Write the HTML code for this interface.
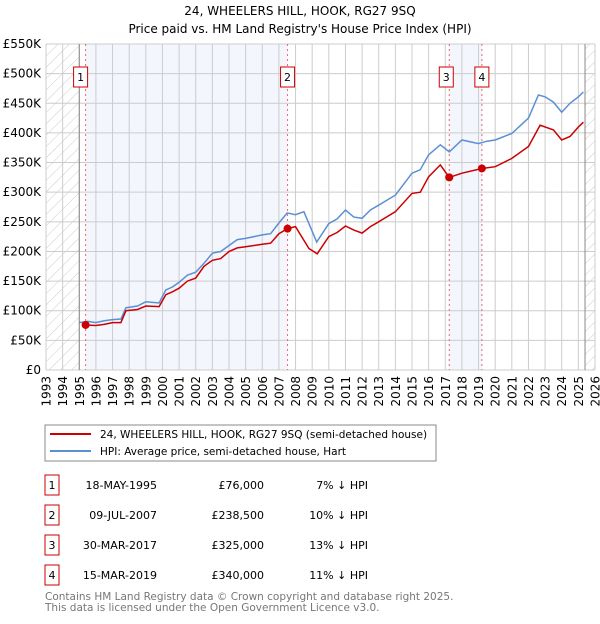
<!DOCTYPE html>
<html><head><meta charset="utf-8"><style>
body{margin:0;background:#fff;font-family:"DejaVu Sans","Liberation Sans",sans-serif;}
svg text{font-family:"DejaVu Sans","Liberation Sans",sans-serif;}
</style></head><body>
<svg id="chart" width="600" height="620" xmlns="http://www.w3.org/2000/svg">
<defs><pattern id="hatch" width="8" height="8" patternUnits="userSpaceOnUse" patternTransform="rotate(45)"><line x1="0" y1="0" x2="0" y2="8" stroke="#ccc" stroke-width="1"/></pattern></defs>
<text x="300" y="15" text-anchor="middle" font-size="12">24, WHEELERS HILL, HOOK, RG27 9SQ</text>
<text x="300" y="33" text-anchor="middle" font-size="12">Price paid vs. HM Land Registry's House Price Index (HPI)</text>
<g id="plot"></g>
<g>
<rect x="45" y="425" width="391" height="36" fill="#fff" stroke="#888"/>
<line x1="50" y1="434" x2="91" y2="434" stroke="#cc0000" stroke-width="2"/>
<text x="100" y="438" font-size="10.5">24, WHEELERS HILL, HOOK, RG27 9SQ (semi-detached house)</text>
<line x1="50" y1="451" x2="91" y2="451" stroke="#5b8fd4" stroke-width="2"/>
<text x="100" y="455" font-size="10.5">HPI: Average price, semi-detached house, Hart</text>
</g>
<g id="table" font-size="11"></g>
<text x="45" y="600" font-size="10.5" fill="#777">Contains HM Land Registry data © Crown copyright and database right 2025.</text>
<text x="45" y="611" font-size="10.5" fill="#777">This data is licensed under the Open Government Licence v3.0.</text>
</svg>
<script>
const hpiYears=[1995,1995.5,1996,1996.5,1997,1997.5,1997.8,1998.5,1999,1999.8,2000.2,2000.6,2001,2001.5,2002,2002.5,2003,2003.5,2004,2004.5,2005,2006,2006.5,2007,2007.5,2008,2008.5,2009.27,2010,2010.5,2011,2011.5,2012,2012.5,2013,2014,2015,2015.5,2016,2016.7,2017.24,2018,2019,2019.5,2020,2021,2022,2022.6,2023,2023.5,2024,2024.5,2025,2025.3];
const hpiValues=[80,82,80,83,85,86,105,108,115,113,135,140,148,160,165,180,197,200,210,220,222,228,230,248,265,262,267,216,247,255,270,258,256,270,278,295,332,338,363,380,368,388,382,386,388,399,425,464,461,452,435,450,461,469];
const ppYears=[1995.38,1996,1996.5,1997,1997.5,1997.8,1998.5,1999,1999.8,2000.2,2000.6,2001,2001.5,2002,2002.5,2003,2003.5,2004,2004.5,2005,2006,2006.5,2007,2007.52,2008,2008.8,2009.3,2010,2010.5,2011,2011.5,2012,2012.5,2013,2014,2015,2015.5,2016,2016.7,2017.24,2018,2019.2,2020,2021,2022,2022.7,2023.5,2024,2024.5,2025,2025.3];
const ppValues=[76,75,77,80,80,100,102,108,107,127,132,138,150,155,175,185,188,200,206,208,212,214,230,238.5,242,205,196,225,232,243,236,231,242,250,267,298,300,326,346,325,332,340,343,357,377,413,405,388,394,410,418];
const saleYears=[1995.38,2007.52,2017.24,2019.2];
const saleValues=[76,238.5,325,340];
const saleLabels=["1","2","3","4"];
const saleDates=["18-MAY-1995","09-JUL-2007","30-MAR-2017","15-MAR-2019"];
const salePrices=["£76,000","£238,500","£325,000","£340,000"];
const saleDiffs=["7% ↓ HPI","10% ↓ HPI","13% ↓ HPI","11% ↓ HPI"];
const yTicks=[0,50,100,150,200,250,300,350,400,450,500,550];
const xTicks=[];for(let y=1993;y<=2026;y++)xTicks.push(y);

const X0=46,X1=595,Y0=370,Y1=44;
const xs=y=>X0+(y-1993)/33*(X1-X0);
const ys=v=>Y0-v/550*(Y0-Y1);
const NS="http://www.w3.org/2000/svg";
const plot=document.getElementById('plot');
function mk(tag,attrs,parent){const e=document.createElementNS(NS,tag);for(const k in attrs)e.setAttribute(k,attrs[k]);(parent||plot).appendChild(e);return e;}

let e;
e=mk('rect',{x:X0,y:Y1,width:X1-X0,height:Y0-Y1,fill:'#fff'});


e=mk('rect',{x:xs(1995.38),y:Y1,width:xs(2007.52)-xs(1995.38),height:Y0-Y1,fill:'#f3f6fd'});


e=mk('rect',{x:xs(2017.24),y:Y1,width:xs(2019.2)-xs(2017.24),height:Y0-Y1,fill:'#f3f6fd'});


e=mk('rect',{x:X0,y:Y1,width:xs(1995)-X0,height:Y0-Y1,fill:'url(#hatch)'});


e=mk('rect',{x:xs(2025.4),y:Y1,width:X1-xs(2025.4),height:Y0-Y1,fill:'url(#hatch)'});


for(const t of yTicks){
 e=mk('line',{x1:X0,x2:X1,y1:ys(t),y2:ys(t),stroke:'#ccc','stroke-width':1});
 
 
 e=mk('text',{x:41,y:ys(t)+4,'text-anchor':'end','font-size':12});
 e.textContent=t===0?'£0':'£'+t+'K';
 
 
}
for(const t of xTicks){
 e=mk('line',{x1:xs(t),x2:xs(t),y1:Y1,y2:Y0,stroke:'#ccc','stroke-width':1});
 
 
 e=mk('text',{x:0,y:0,'text-anchor':'end','font-size':12,transform:`translate(${xs(t)+4.5},${Y0+6}) rotate(-90)`});
 e.textContent=t;
 
 
}
e=mk('line',{x1:xs(1995),x2:xs(1995),y1:Y1,y2:Y0,stroke:'#888'});


e=mk('line',{x1:xs(2025.4),x2:xs(2025.4),y1:Y1,y2:Y0,stroke:'#888'});


for(let i=0;i<saleYears.length;i++){
 e=mk('line',{x1:xs(saleYears[i]),x2:xs(saleYears[i]),y1:Y1,y2:Y0,stroke:'#e66','stroke-dasharray':'2,3'});
 
 
}
function pathOf(a,b){return a.map((y,i)=>(i?'L':'M')+xs(y).toFixed(1)+','+ys(b[i]).toFixed(1)).join('');}
e=mk('path',{d:pathOf(hpiYears,hpiValues),fill:'none',stroke:'#5b8fd4','stroke-width':1.5});


e=mk('path',{d:pathOf(ppYears,ppValues),fill:'none',stroke:'#cc0000','stroke-width':1.5});


for(let i=0;i<saleYears.length;i++){
 e=mk('circle',{cx:xs(saleYears[i]),cy:ys(saleValues[i]),r:4,fill:'#cc0000'});
 
 
 const bxx=i===0?xs(saleYears[i])-12:(i===2?xs(saleYears[i])-10:xs(saleYears[i])-7);
 e=mk('rect',{x:bxx,y:67,width:14,height:20,fill:'#fff',stroke:'#cc0000'});
 
 
 e=mk('text',{x:bxx+7,y:81,'text-anchor':'middle','font-size':11});
 e.textContent=saleLabels[i];
 
 
}
const tbl=document.getElementById('table');
for(let i=0;i<saleLabels.length;i++){
 const y=475+i*30;
 e=mk('rect',{x:45,y:y,width:14,height:20,fill:'#fff',stroke:'#cc0000'},tbl);
 
 
 e=mk('text',{x:52,y:y+14,'text-anchor':'middle'},tbl);e.textContent=saleLabels[i];
 
 
 e=mk('text',{x:157,y:y+14,'text-anchor':'end'},tbl);e.textContent=saleDates[i];
 
 
 e=mk('text',{x:264,y:y+14,'text-anchor':'end'},tbl);e.textContent=salePrices[i];
 
 
 e=mk('text',{x:368,y:y+14,'text-anchor':'end'},tbl);e.textContent=saleDiffs[i];
 
 
}
</script>
</body></html>
